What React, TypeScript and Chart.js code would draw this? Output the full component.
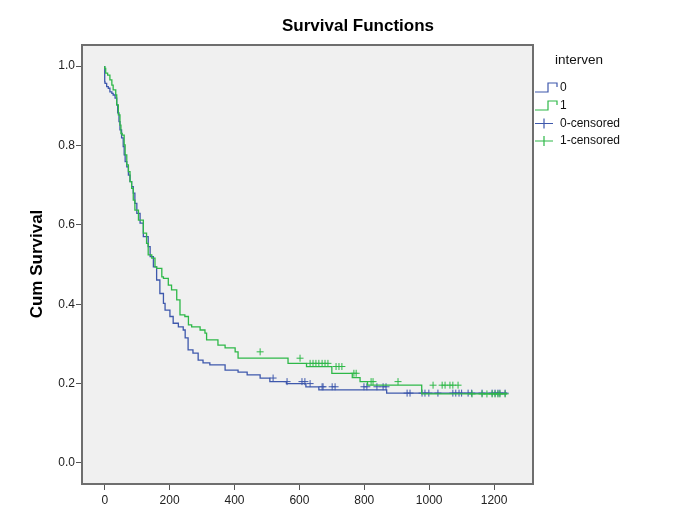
import React, { useEffect, useRef } from 'react';
import { Chart, registerables } from 'chart.js';
Chart.register(...registerables);

const chartTitle = 'Survival Functions';
const yAxisTitle = 'Cum Survival';
const legendTitle = 'interven';
const legendLabels = ['0', '1', '0-censored', '1-censored'];

const xTickValues = [0, 200, 400, 600, 800, 1000, 1200];
const yTickValues = [0, 0.2, 0.4, 0.6, 0.8, 1.0];

// group 0 (interven = 0): event times and survival after each event
const group0Times = [0, 1, 6, 11, 16, 22, 26, 32, 37, 40, 44, 47, 52, 57, 60, 63, 68, 73, 78, 83, 88, 93, 99, 109, 119, 134, 140, 150, 160, 170, 181, 186, 201, 211, 227, 242, 248, 257, 272, 288, 303, 324, 371, 411, 439, 479, 509, 560, 620, 660, 869, 904];
const group0Surv = [1.0, 0.960, 0.956, 0.948, 0.944, 0.935, 0.931, 0.927, 0.919, 0.902, 0.882, 0.860, 0.839, 0.819, 0.797, 0.776, 0.759, 0.746, 0.725, 0.709, 0.696, 0.680, 0.654, 0.629, 0.604, 0.570, 0.545, 0.520, 0.494, 0.461, 0.427, 0.402, 0.385, 0.369, 0.352, 0.343, 0.335, 0.315, 0.285, 0.277, 0.259, 0.252, 0.247, 0.234, 0.229, 0.222, 0.214, 0.205, 0.200, 0.192, 0.184, 0.176];
const group0LastTime = 1240;
const group0Censored = [519, 562, 608, 617, 633, 670, 673, 701, 710, 799, 808, 839, 858, 867, 932, 941, 978, 987, 999, 1027, 1073, 1082, 1092, 1100, 1120, 1131, 1163, 1194, 1203, 1212, 1218, 1234];

// group 1 (interven = 1)
const group1Times = [0, 3, 9, 16, 22, 26, 34, 37, 42, 47, 50, 54, 60, 63, 68, 73, 78, 83, 88, 93, 104, 119, 129, 134, 145, 155, 160, 176, 181, 196, 206, 222, 232, 247, 258, 268, 294, 309, 314, 349, 371, 402, 411, 565, 622, 700, 763, 787, 810, 977, 1105];
const group1Surv = [1.0, 0.994, 0.982, 0.977, 0.965, 0.952, 0.940, 0.927, 0.902, 0.877, 0.851, 0.830, 0.826, 0.801, 0.776, 0.751, 0.734, 0.709, 0.692, 0.662, 0.637, 0.612, 0.579, 0.553, 0.524, 0.516, 0.494, 0.490, 0.469, 0.465, 0.448, 0.436, 0.411, 0.373, 0.369, 0.348, 0.343, 0.335, 0.327, 0.310, 0.297, 0.290, 0.280, 0.264, 0.251, 0.243, 0.226, 0.215, 0.205, 0.196, 0.174];
const group1LastTime = 1240;
const group1Censored = [479, 602, 633, 642, 651, 660, 670, 679, 688, 713, 722, 731, 768, 775, 821, 827, 904, 1012, 1040, 1049, 1064, 1073, 1089, 1132, 1163, 1178, 1194, 1203, 1212, 1218, 1234];

const blue = 'rgb(62,88,172)';
const green = 'rgb(46,184,72)';

function survivalAt(times: number[], surv: number[], t: number) {
  let s = surv[0];
  for (let i = 0; i < times.length; i++) if (times[i] <= t) s = surv[i];
  return s;
}
function stepPoints(times: number[], surv: number[], last: number) {
  const pts = times.map((t, i) => ({ x: t, y: surv[i] }));
  pts.push({ x: last, y: surv[surv.length - 1] });
  return pts;
}
function censorPoints(times: number[], surv: number[], cens: number[]) {
  return cens.map((t) => ({ x: t, y: survivalAt(times, surv, t) }));
}

const FONT = '"Liberation Sans", Arial, sans-serif';

const decor = {
  id: 'decor',
  beforeDraw(chart: any) {
    const { ctx, chartArea: a, width, height } = chart;
    ctx.save();
    ctx.fillStyle = '#ffffff';
    ctx.fillRect(0, 0, width, height);
    ctx.fillStyle = '#f0f0f0';
    ctx.fillRect(a.left, a.top, a.right - a.left, a.bottom - a.top);
    ctx.restore();
  },
  afterDraw(chart: any) {
    const { ctx, chartArea: a } = chart;
    ctx.save();
    ctx.strokeStyle = '#6e6e6e';
    ctx.lineWidth = 2;
    ctx.strokeRect(a.left, a.top, a.right - a.left, a.bottom - a.top);

    ctx.fillStyle = '#000';
    ctx.font = `bold 17px ${FONT}`;
    ctx.textAlign = 'center';
    ctx.textBaseline = 'middle';
    ctx.fillText(chartTitle, 358, 26);

    ctx.save();
    ctx.translate(37, 264);
    ctx.rotate(-Math.PI / 2);
    ctx.fillText(yAxisTitle, 0, 0);
    ctx.restore();

    ctx.textAlign = 'left';
    ctx.font = `13.5px ${FONT}`;
    ctx.fillStyle = '#111';
    ctx.fillText(legendTitle, 555, 60);

    ctx.font = `12px ${FONT}`;
    const rows = [88, 106, 123.5, 141];
    const cols = [blue, green, blue, green];
    ctx.lineWidth = 1.2;
    rows.forEach((y, i) => {
      ctx.strokeStyle = cols[i];
      ctx.beginPath();
      if (i < 2) {
        ctx.moveTo(535, y + 4);
        ctx.lineTo(548, y + 4);
        ctx.lineTo(548, y - 5);
        ctx.lineTo(557, y - 5);
        ctx.lineTo(557, y - 1);
      } else {
        ctx.moveTo(535, y);
        ctx.lineTo(553, y);
        ctx.moveTo(544, y - 5);
        ctx.lineTo(544, y + 5);
      }
      ctx.stroke();
      ctx.fillStyle = '#111';
      ctx.fillText(legendLabels[i], 560, y);
    });
    ctx.restore();
  },
};

export default function App() {
  const ref = useRef<HTMLCanvasElement>(null);
  useEffect(() => {
    const chart = new Chart(ref.current as HTMLCanvasElement, {
      type: 'line',
      data: {
        datasets: [
          {
            data: censorPoints(group1Times, group1Surv, group1Censored),
            showLine: false,
            pointStyle: 'cross',
            pointRadius: 3.5,
            pointBorderWidth: 1,
            borderColor: green,
            pointBorderColor: green,
          },
          {
            data: stepPoints(group1Times, group1Surv, group1LastTime),
            stepped: 'after',
            borderColor: green,
            borderWidth: 1.3,
            pointRadius: 0,
            fill: false,
          },
          {
            data: censorPoints(group0Times, group0Surv, group0Censored),
            showLine: false,
            pointStyle: 'cross',
            pointRadius: 3.5,
            pointBorderWidth: 1,
            borderColor: blue,
            pointBorderColor: blue,
          },
          {
            data: stepPoints(group0Times, group0Surv, group0LastTime),
            stepped: 'after',
            borderColor: blue,
            borderWidth: 1.3,
            pointRadius: 0,
            fill: false,
          },
        ] as any,
      },
      options: {
        animation: false,
        responsive: false,
        maintainAspectRatio: false,
        layout: { padding: { left: 0, top: 45, right: 143, bottom: 0 } },
        plugins: { legend: { display: false }, tooltip: { enabled: false }, title: { display: false } },
        scales: {
          x: {
            type: 'linear',
            min: -70,
            max: 1320,
            afterBuildTicks: (s: any) => { s.ticks = xTickValues.map((v) => ({ value: v })); },
            afterFit: (s: any) => { s.height = 29; },
            grid: { display: true, drawOnChartArea: false, drawTicks: true, tickLength: 6, color: '#555', lineWidth: 1 },
            border: { display: false },
            ticks: { color: '#222', font: { family: FONT, size: 12 }, padding: 3, maxRotation: 0, autoSkip: false, callback: (v: any) => String(v) },
          },
          y: {
            type: 'linear',
            min: -0.0529,
            max: 1.0529,
            afterBuildTicks: (s: any) => { s.ticks = yTickValues.map((v) => ({ value: v })); },
            afterFit: (s: any) => { s.width = 82; },
            grid: { display: true, drawOnChartArea: false, drawTicks: true, tickLength: 6, color: '#555', lineWidth: 1 },
            border: { display: false },
            ticks: { color: '#222', font: { family: FONT, size: 12 }, padding: 1, callback: (v: any) => Number(v).toFixed(1) },
          },
        },
      } as any,
      plugins: [decor],
    });
    return () => chart.destroy();
  }, []);
  return (
    <div style={{ position: 'fixed', left: 0, top: 0, width: 676, height: 513 }}>
      <canvas ref={ref} width={676} height={513} style={{ width: 676, height: 513 }} />
    </div>
  );
}
